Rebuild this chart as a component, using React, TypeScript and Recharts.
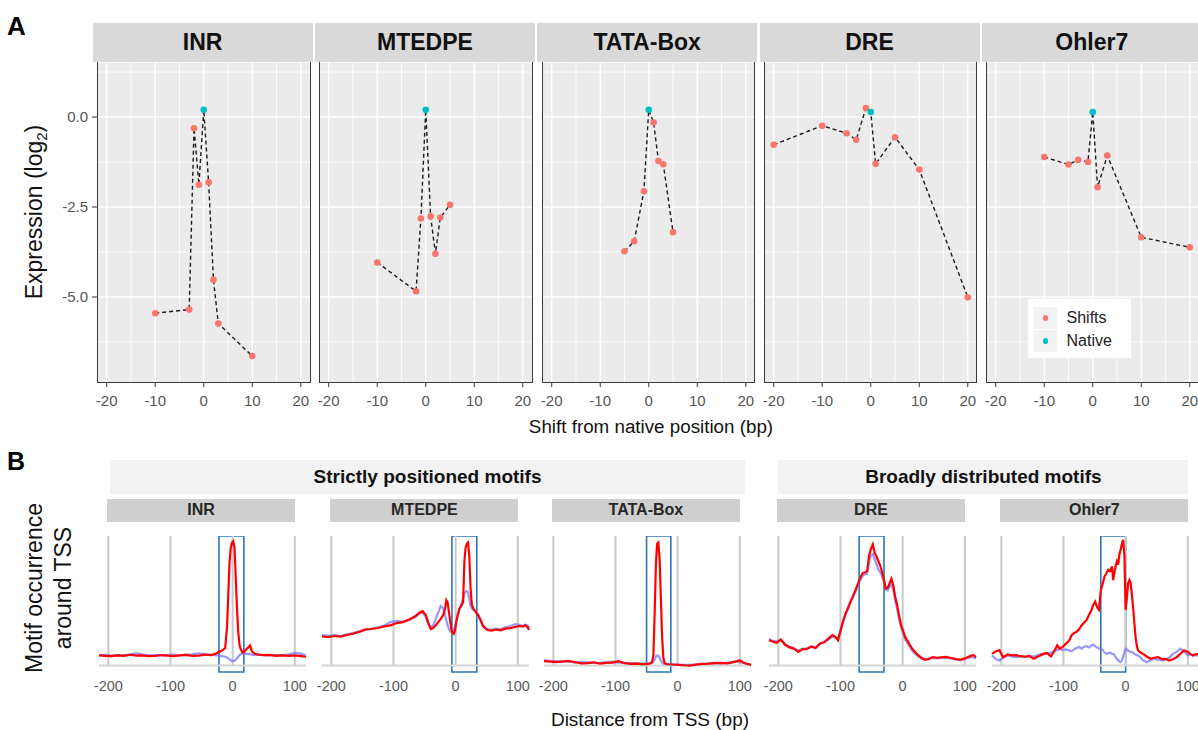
import React from "react";
import {
  ScatterChart,
  Scatter,
  LineChart,
  Line,
  XAxis,
  YAxis,
  CartesianGrid,
  ReferenceLine,
  ReferenceArea,
} from "recharts";

const FONT = "'Liberation Sans', Arial, Helvetica, sans-serif";

// ---------- panel A: expression of shifted motifs ----------
const INR_SHIFT = [-10, -3, -2, -1, 0, 1, 2, 3, 10];
const INR_EXPR = [-5.45, -5.35, -0.31, -1.88, 0.2, -1.81, -4.52, -5.74, -6.64];

const MTEDPE_SHIFT = [-10, -2, -1, 0, 1, 2, 3, 5];
const MTEDPE_EXPR = [-4.04, -4.84, -2.82, 0.2, -2.76, -3.8, -2.79, -2.44];

const TATA_SHIFT = [-5, -3, -1, 0, 1, 2, 3, 5];
const TATA_EXPR = [-3.73, -3.45, -2.06, 0.2, -0.15, -1.22, -1.31, -3.2];

const DRE_SHIFT = [-20, -10, -5, -3, -1, 0, 1, 5, 10, 20];
const DRE_EXPR = [-0.77, -0.24, -0.45, -0.63, 0.25, 0.14, -1.3, -0.56, -1.46, -5.01];

const OHLER_SHIFT = [-10, -5, -3, -1, 0, 1, 3, 10, 20];
const OHLER_EXPR = [-1.11, -1.32, -1.19, -1.25, 0.14, -1.95, -1.07, -3.34, -3.62];

const SHIFT_TICKS = [-20, -10, 0, 10, 20];
const SHIFT_MINOR = [-15, -5, 5, 15];
const EXPR_TICKS = [-5, -2.5, 0];
const EXPR_MINOR = [1.25, -1.25, -3.75, -6.25];
const LEGEND_LABELS = ["Shifts", "Native"];

// ---------- panel B: motif occurrence around TSS ----------
const GROUPS = ["Strictly positioned motifs", "Broadly distributed motifs"];
const TSS_TICKS = [-200, -100, 0, 100];

const INR_X = [
  -215, -205, -195, -185, -175, -165, -155, -145, -135, -125,
  -115, -105, -95, -85, -75, -65, -55, -45, -35, -28,
  -22, -17, -12, -9, -7, -5, -3, -1, 1, 3,
  5, 7, 9, 11, 13, 16, 19, 22, 25, 28,
  31, 35, 40, 50, 60, 70, 80, 90, 100, 110,
  118,
];
const INR_RED = [
  7.8, 7.5, 7.2, 7.9, 7.4, 8.3, 7.6, 7.9, 7.2, 7.5,
  8.1, 7.6, 7.3, 7.8, 8.2, 7.4, 7.7, 8.4, 8.0, 9.0,
  10.5, 11.5, 13.5, 30, 55, 80, 91, 95, 96, 91,
  68, 44, 26, 16, 12.5, 10, 10.8, 12.5, 14, 15.5,
  11, 9.3, 8.5, 8.0, 8.2, 7.5, 7.9, 7.4, 7.8, 7.3,
  6.8,
];
const INR_BLUE = [
  7.9, 8.3, 7.6, 8.1, 7.9, 8.6, 9.6, 8.4, 7.8, 8.0,
  7.7, 8.2, 8.5, 7.9, 8.3, 8.6, 9.4, 8.8, 8.2, 8.0,
  7.6, 7.2, 6.8, 6.2, 5.6, 4.8, 4.0, 3.5, 3.4, 3.9,
  4.6, 5.6, 6.8, 8.0, 9.0, 9.6, 9.4, 9.0, 8.7, 8.9,
  8.4, 8.1, 8.4, 8.1, 7.9, 8.3, 8.0, 8.6, 9.8, 9.2,
  7.8,
];
const INR_BOX = [-22, 18];

const MTEDPE_X = [
  -215, -205, -195, -185, -175, -165, -155, -145, -135, -125,
  -115, -105, -95, -85, -75, -65, -58, -53, -48, -44,
  -40, -36, -32, -28, -24, -20, -17, -15, -13, -11,
  -9, -7, -5, -3, -1, 1, 3, 6, 9, 12,
  14, 16, 18, 20, 22, 24, 26, 29, 32, 36,
  40, 44, 48, 52, 58, 65, 72, 80, 88, 96,
  102, 108, 112, 116, 118,
];
const MTEDPE_RED = [
  22.5, 22.0, 22.8, 22.3, 23.6, 24.5, 26.0, 27.9, 28.2, 29.0,
  30.2, 31.0, 32.8, 33.5, 35.6, 38.0, 41.0, 42.0, 39.0, 33.0,
  28.0, 29.0, 31.0, 33.5, 36.0, 39.0, 44.0, 50.5, 49.0, 42.0,
  35.0, 28.0, 25.5, 24.5, 27.0, 33.5, 38.0, 44.0, 46.0, 49.0,
  80.0, 91.0, 94.0, 95.0, 84.0, 60.0, 47.0, 43.5, 41.5, 39.0,
  35.0, 30.5, 28.5, 27.3, 27.0, 27.8, 27.2, 28.5, 28.8, 29.8,
  30.5, 30.0, 31.0, 29.5, 27.3,
];
const MTEDPE_BLUE = [
  23.5, 23.0, 23.4, 22.8, 24.0, 25.0, 26.5, 27.5, 28.6, 29.5,
  30.8, 33.5, 34.5, 33.8, 35.0, 37.5, 40.0, 40.8, 37.5, 32.0,
  29.5, 31.0, 36.0, 41.0, 46.0, 44.0, 39.0, 35.0, 31.0, 28.5,
  26.5, 25.5, 26.5, 28.0, 30.0, 34.0, 38.0, 43.0, 47.0, 52.0,
  55.5, 57.0, 57.5, 56.5, 52.0, 46.0, 44.0, 43.0, 42.0, 39.5,
  35.5, 31.0, 29.0, 28.2, 27.8, 28.5, 28.0, 29.5, 30.5, 32.0,
  31.5, 30.5, 31.5, 31.0, 29.0,
];
const MTEDPE_BOX = [-6, 34];

const TATA_X = [
  -215, -205, -195, -185, -175, -165, -155, -145, -135, -125,
  -115, -105, -95, -85, -75, -65, -55, -48, -44, -41,
  -39, -37, -35, -33, -31, -29, -27, -25, -23, -21,
  -18, -14, -8, 0, 10, 20, 30, 40, 50, 60,
  70, 80, 90, 95, 100, 105, 110, 118,
];
const TATA_RED = [
  3.4, 3.0, 2.6, 3.2, 3.5, 2.6, 1.6, 1.9, 2.5, 1.4,
  2.0, 2.3, 3.4, 1.8, 1.2, 1.4, 0.9, 1.2, 1.5, 3.0,
  8, 40, 78, 94, 95, 82, 52, 22, 6, 1.8,
  1.2, 1.0, 0.8, 0.6, 0.2, 0.0, 0.8, 1.2, 1.4, 1.8,
  2.0, 1.6, 2.6, 3.4, 3.9, 2.6, 1.6, 0.5,
];
const TATA_BLUE = [
  4.0, 3.6, 3.4, 2.8, 3.2, 2.2, 2.8, 2.4, 2.0, 2.1,
  2.6, 3.0, 2.2, 2.0, 1.8, 1.6, 1.5, 1.6, 1.8, 2.2,
  3.0, 4.6, 6.8, 7.8, 7.6, 6.0, 3.8, 2.4, 1.6, 1.2,
  1.0, 0.9, 0.8, 0.7, 0.6, 0.5, 0.9, 1.3, 1.5, 2.0,
  1.6, 2.2, 2.8, 3.0, 2.6, 2.0, 1.4, 0.8,
];
const TATA_BOX = [-50, -11];

const DRE_X = [
  -215, -209, -203, -196, -189, -182, -175, -168, -161, -154,
  -147, -140, -133, -126, -119, -113, -108, -104, -100, -96,
  -92, -88, -84, -80, -76, -72, -68, -64, -60, -57,
  -54, -51, -48, -45, -42, -39, -36, -33, -30, -27,
  -24, -21, -18, -15, -12, -9, -6, -3, 0, 4,
  8, 12, 16, 20, 25, 30, 36, 42, 48, 55,
  62, 70, 78, 86, 94, 100, 106, 110, 114, 118,
];
const DRE_RED = [
  19.5, 18.5, 17.5, 20.0, 16.0, 14.0, 13.0, 10.5, 12.5, 13.0,
  14.5, 13.5, 17.0, 18.0, 21.0, 23.5, 22.0, 19.5, 27.0, 34.0,
  40.0, 44.0, 49.0, 53.0, 58.0, 63.0, 68.0, 71.5, 72.0, 73.0,
  85.0, 90.0, 93.5, 87.0, 84.0, 80.5, 77.0, 72.0, 66.0, 59.5,
  60.0, 63.5, 67.0, 62.0, 53.0, 47.0, 39.0, 32.0, 28.0, 22.0,
  19.0, 15.5, 12.5, 10.4, 8.0, 6.0, 4.5, 5.0, 6.5, 6.0,
  6.3, 6.6, 5.8, 5.0, 4.6, 5.5, 6.8, 7.6, 8.0, 6.5,
];
const DRE_BLUE = [
  20.5, 19.0, 18.5, 19.5, 16.5, 14.5, 13.5, 11.5, 13.0, 12.5,
  15.0, 14.0, 16.5, 18.5, 20.0, 22.5, 21.5, 20.5, 26.0, 33.0,
  39.0, 45.0, 49.5, 54.0, 57.0, 62.0, 66.0, 69.5, 70.5, 71.0,
  80.0, 85.0, 86.0, 82.0, 78.0, 74.0, 72.0, 69.0, 64.0, 59.0,
  58.0, 61.0, 63.0, 58.0, 50.0, 44.0, 37.0, 30.0, 25.5, 20.0,
  17.0, 14.0, 11.0, 9.0, 7.0, 5.5, 4.5, 4.8, 5.8, 5.5,
  5.8, 6.0, 5.5, 4.5, 4.0, 5.0, 6.0, 6.5, 6.2, 5.5,
];
const DRE_BOX = [-70, -30];

const OHLER_X = [
  -215, -209, -203, -197, -190, -183, -176, -169, -162, -155,
  -148, -141, -134, -127, -120, -114, -110, -106, -101, -96,
  -91, -87, -83, -79, -75, -71, -67, -63, -59, -55,
  -52, -49, -46, -43, -40, -37, -34, -31, -28, -25,
  -22, -20, -18, -16, -14, -12, -10, -8, -6, -4,
  -2, 0, 2, 4, 6, 8, 10, 12, 14, 16,
  18, 20, 24, 28, 34, 40, 46, 52, 58, 64,
  70, 76, 82, 88, 94, 100, 104, 108, 112, 118,
];
const OHLER_RED = [
  9.0, 11.0, 11.7, 6.5, 8.5, 7.8, 8.0, 7.2, 6.8, 7.5,
  5.2, 7.0, 8.6, 9.6, 7.0, 12.0, 15.6, 13.0, 14.5, 16.9,
  19.0, 23.4, 25.0, 26.0, 28.0, 31.0, 33.0, 35.0, 39.0, 42.9,
  47.0, 49.4, 45.0, 43.0, 58.0, 63.0, 68.8, 71.0, 74.0, 73.0,
  76.6, 66.0, 72.0, 77.0, 80.5, 78.0, 86.0, 89.6, 94.0, 97.0,
  85.0, 43.0, 52.0, 63.6, 66.0, 64.0, 55.0, 45.0, 33.0, 22.0,
  15.0, 11.7, 10.0, 9.0, 7.0, 5.2, 6.0, 6.5, 5.0, 5.2,
  3.9, 4.8, 6.5, 9.0, 11.7, 10.4, 9.0, 7.8, 8.6, 9.0,
];
const OHLER_BLUE = [
  7.8, 5.0, 3.9, 6.0, 7.8, 7.0, 6.5, 7.0, 6.5, 7.2,
  7.0, 8.0, 9.0, 9.5, 10.0, 11.0, 12.0, 13.0, 12.0, 12.5,
  11.7, 11.0, 12.5, 13.5, 14.3, 13.0, 14.5, 15.0, 14.0, 15.6,
  16.0, 15.0, 14.0, 13.0, 13.0, 12.0, 10.0, 9.0, 9.5, 10.0,
  9.0, 9.0, 8.0, 6.5, 5.0, 4.0, 3.0, 2.6, 4.0, 7.0,
  10.0, 13.0, 12.5, 11.5, 11.0, 10.5, 10.4, 10.0, 9.0, 8.5,
  8.0, 7.8, 6.0, 4.0, 2.6, 4.0, 5.2, 4.5, 3.9, 4.5,
  6.0, 9.0, 10.5, 13.0, 11.0, 7.8, 8.5, 8.0, 7.8, 7.8,
];
const OHLER_BOX = [-40, 0];

const SHIFT_PANELS = [
  { name: "INR", shift: INR_SHIFT, expr: INR_EXPR },
  { name: "MTEDPE", shift: MTEDPE_SHIFT, expr: MTEDPE_EXPR },
  { name: "TATA-Box", shift: TATA_SHIFT, expr: TATA_EXPR },
  { name: "DRE", shift: DRE_SHIFT, expr: DRE_EXPR },
  { name: "Ohler7", shift: OHLER_SHIFT, expr: OHLER_EXPR },
];

const PROFILE_PANELS = [
  { name: "INR", xs: INR_X, red: INR_RED, blue: INR_BLUE, box: INR_BOX },
  { name: "MTEDPE", xs: MTEDPE_X, red: MTEDPE_RED, blue: MTEDPE_BLUE, box: MTEDPE_BOX },
  { name: "TATA-Box", xs: TATA_X, red: TATA_RED, blue: TATA_BLUE, box: TATA_BOX },
  { name: "DRE", xs: DRE_X, red: DRE_RED, blue: DRE_BLUE, box: DRE_BOX },
  { name: "Ohler7", xs: OHLER_X, red: OHLER_RED, blue: OHLER_BLUE, box: OHLER_BOX },
];

// layout (px)
const A_LEFT = [97, 319.3, 541.6, 763.9, 986.2];
const A_W = 213.5;
const A_TOP = 62;
const A_H = 321;
const A_PAD = 14; // room for edge tick labels
const B_LEFT = [99, 322.4, 543.9, 769, 992.4];
const B_W = 207;
const B_TOP = 536;
const B_H = 136;
const B_PAD = 16;

const SHIFT_COLOR = "#F8766D";
const NATIVE_COLOR = "#00BFC4";

function ShiftDot(props: any) {
  const { cx, cy, payload } = props;
  if (cx == null || cy == null) return null;
  return <circle cx={cx} cy={cy} r={3.3} fill={payload.native ? NATIVE_COLOR : SHIFT_COLOR} />;
}

function ShiftFacet({ panel, index }: { panel: any; index: number }) {
  const rows = panel.shift.map((s: number, i: number) => ({
    shift: s,
    expr: panel.expr[i],
    native: s === 0,
  }));
  const yw = index === 0 ? 60 : 0;
  const padL = index === 0 ? 0 : A_PAD;
  const left = A_LEFT[index];
  return (
    <>
      <div style={{ position: "absolute", left: left - yw - padL, top: A_TOP }}>
        <ScatterChart
          width={A_W + yw + padL + A_PAD}
          height={A_H + 34}
          margin={{ top: 0, right: A_PAD, bottom: 0, left: padL }}
        >
          <CartesianGrid fill="#EBEBEB" stroke="#FFFFFF" strokeWidth={1.4} />
          {SHIFT_MINOR.map((v) => (
            <ReferenceLine key={"mx" + v} x={v} stroke="#FFFFFF" strokeWidth={0.8} />
          ))}
          {EXPR_MINOR.map((v) => (
            <ReferenceLine key={"my" + v} y={v} stroke="#FFFFFF" strokeWidth={0.8} />
          ))}
          <XAxis
            type="number"
            dataKey="shift"
            domain={[-22, 22]}
            ticks={SHIFT_TICKS}
            interval={0}
            height={34}
            axisLine={false}
            tickLine={{ stroke: "#333" }}
            tickSize={4}
            tickMargin={8}
            tick={{ fontSize: 15, fill: "#555" }}
          />
          <YAxis
            type="number"
            dataKey="expr"
            domain={[-7.39, 1.53]}
            ticks={EXPR_TICKS}
            interval={0}
            hide={index !== 0}
            width={yw}
            axisLine={false}
            tickLine={{ stroke: "#333" }}
            tickSize={5}
            tickMargin={4}
            tick={{ fontSize: 15, fill: "#555" }}
            tickFormatter={(v: number) => v.toFixed(1)}
          />
          <Scatter
            data={rows}
            line={{ stroke: "#1A1A1A", strokeWidth: 1.4, strokeDasharray: "4 3" }}
            lineType="joint"
            shape={ShiftDot}
            isAnimationActive={false}
          />
        </ScatterChart>
      </div>
      <div
        style={{
          position: "absolute",
          left: left,
          top: A_TOP,
          width: A_W,
          height: A_H,
          boxSizing: "border-box",
          border: "1.8px solid #3A3A3A",
          borderTop: "none",
          pointerEvents: "none",
        }}
      />
      <div
        style={{
          position: "absolute",
          left: left - 4.4,
          top: 22.7,
          width: 220,
          height: 39,
          background: "#D9D9D9",
          display: "flex",
          alignItems: "center",
          justifyContent: "center",
          fontWeight: "bold",
          fontSize: 23,
          color: "#111",
        }}
      >
        {panel.name}
      </div>
    </>
  );
}

function ProfileFacet({ panel, index }: { panel: any; index: number }) {
  const rows = panel.xs.map((x: number, i: number) => ({
    pos: x,
    red: panel.red[i],
    blue: panel.blue[i],
  }));
  const left = B_LEFT[index];
  return (
    <>
      <div
        style={{
          position: "absolute",
          left: left + 8,
          top: 498.7,
          width: 188,
          height: 23,
          background: "#D0CFCF",
          display: "flex",
          alignItems: "center",
          justifyContent: "center",
          fontWeight: "bold",
          fontSize: 16,
          color: "#262626",
        }}
      >
        {panel.name}
      </div>
      <div style={{ position: "absolute", left: left - B_PAD, top: B_TOP }}>
        <LineChart
          width={B_W + 2 * B_PAD}
          height={B_H + 30}
          data={rows}
          margin={{ top: 0, right: B_PAD, bottom: 0, left: B_PAD }}
        >
          <XAxis
            type="number"
            dataKey="pos"
            domain={[-215, 118]}
            ticks={TSS_TICKS}
            interval={0}
            height={30}
            axisLine={false}
            tickLine={false}
            tickSize={0}
            tickMargin={9}
            tick={{ fontSize: 14.5, fill: "#595959" }}
          />
          <YAxis type="number" domain={[-5, 100]} hide />
          {TSS_TICKS.map((v) => (
            <ReferenceLine
              key={"g" + v}
              segment={[
                { x: v, y: 0 },
                { x: v, y: 100 },
              ]}
              stroke="#C9C9C9"
              strokeWidth={2}
            />
          ))}
          <ReferenceLine y={0} stroke="#D4D4D4" strokeWidth={2} />
          <Line
            type="linear"
            dataKey="blue"
            stroke="#7474FF"
            strokeOpacity={0.75}
            strokeWidth={2.2}
            dot={false}
            isAnimationActive={false}
          />
          <Line
            type="linear"
            dataKey="red"
            stroke="#FF0000"
            strokeWidth={2.2}
            dot={false}
            isAnimationActive={false}
          />
          <ReferenceArea
            x1={panel.box[0]}
            x2={panel.box[1]}
            y1={-5}
            y2={100}
            fill="none"
            fillOpacity={0}
            stroke="#2E75B6"
            strokeWidth={1.6}
          />
        </LineChart>
      </div>
    </>
  );
}

function Rotated({ x, y, size, children }: any) {
  return (
    <div
      style={{
        position: "absolute",
        left: x,
        top: y,
        transform: "translate(-50%, -50%) rotate(-90deg)",
        whiteSpace: "nowrap",
        fontSize: size,
        lineHeight: 1,
        color: "#111",
      }}
    >
      {children}
    </div>
  );
}

function Centered({ x, y, size, children }: any) {
  return (
    <div
      style={{
        position: "absolute",
        left: x,
        top: y,
        transform: "translate(-50%, -50%)",
        whiteSpace: "nowrap",
        fontSize: size,
        lineHeight: 1,
        color: "#111",
      }}
    >
      {children}
    </div>
  );
}

export default function App() {
  return (
    <div
      style={{
        position: "absolute",
        left: 0,
        top: 0,
        width: 1198,
        height: 730,
        overflow: "hidden",
        background: "#FFFFFF",
        fontFamily: FONT,
      }}
    >
      {/* panel A */}
      <div style={{ position: "absolute", left: 7, top: 12.6, fontSize: 26, fontWeight: "bold", lineHeight: 1 }}>
        A
      </div>
      {SHIFT_PANELS.map((p, i) => (
        <ShiftFacet key={p.name} panel={p} index={i} />
      ))}
      <Rotated x={35.5} y={212} size={23}>
        Expression (log<span style={{ fontSize: 15, verticalAlign: "-0.3em" }}>2</span>)
      </Rotated>
      <Centered x={651} y={427} size={18.8}>
        Shift from native position (bp)
      </Centered>
      <div
        style={{
          position: "absolute",
          left: 1028,
          top: 299,
          width: 103,
          height: 59,
          background: "#FFFFFF",
        }}
      >
        {LEGEND_LABELS.map((label, i) => (
          <div
            key={label}
            style={{
              position: "absolute",
              left: 6,
              top: 8 + i * 23,
              width: 90,
              height: 22,
              display: "flex",
              alignItems: "center",
            }}
          >
            <div
              style={{
                width: 23,
                height: 22,
                background: "#F2F2F2",
                display: "flex",
                alignItems: "center",
                justifyContent: "center",
              }}
            >
              <div
                style={{
                  width: 5.5,
                  height: 5.5,
                  borderRadius: "50%",
                  background: i === 0 ? SHIFT_COLOR : NATIVE_COLOR,
                }}
              />
            </div>
            <span style={{ marginLeft: 9.5, fontSize: 16, color: "#222" }}>{label}</span>
          </div>
        ))}
      </div>

      {/* panel B */}
      <div style={{ position: "absolute", left: 7, top: 449, fontSize: 25, fontWeight: "bold", lineHeight: 1 }}>
        B
      </div>
      {[
        { label: GROUPS[0], left: 110, width: 635 },
        { label: GROUPS[1], left: 778.4, width: 410 },
      ].map((g) => (
        <div
          key={g.label}
          style={{
            position: "absolute",
            left: g.left,
            top: 460,
            width: g.width,
            height: 34,
            background: "#F2F2F2",
            display: "flex",
            alignItems: "center",
            justifyContent: "center",
            fontWeight: "bold",
            fontSize: 19,
            color: "#111",
          }}
        >
          {g.label}
        </div>
      ))}
      {PROFILE_PANELS.map((p, i) => (
        <ProfileFacet key={p.name} panel={p} index={i} />
      ))}
      <Rotated x={34} y={588} size={23}>
        Motif occurrence
      </Rotated>
      <Rotated x={63} y={588} size={23}>
        around TSS
      </Rotated>
      <Centered x={650} y={719} size={19}>
        Distance from TSS (bp)
      </Centered>
    </div>
  );
}
